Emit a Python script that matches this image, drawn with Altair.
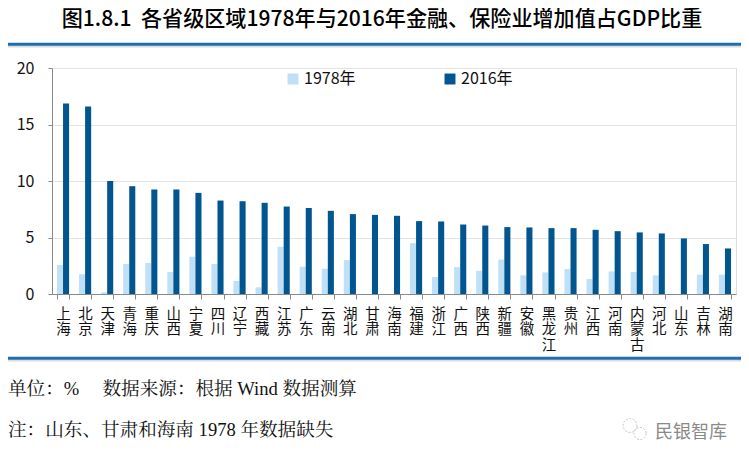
import altair as alt
import pandas as pd

provinces = ["上海","北京","天津","青海","重庆","山西","宁夏","四川","辽宁","西藏","江苏","广东","云南","湖北","甘肃",
             "海南","福建","浙江","广西","陕西","新疆","安徽","黑龙江","贵州","江西","河南","内蒙古","河北","山东","吉林","湖南"]
v2016 = [16.85,16.6,10.0,9.54,9.25,9.25,8.95,8.27,8.21,8.07,7.74,7.6,7.36,7.07,7.0,
         6.92,6.45,6.42,6.15,6.06,5.92,5.89,5.83,5.83,5.68,5.56,5.45,5.36,4.92,4.42,4.03]
v1978 = [2.56,1.74,0.15,2.65,2.74,1.94,3.3,2.65,1.15,0.59,4.18,2.41,2.24,3.0,None,
         None,4.5,1.5,2.38,2.06,3.06,1.65,1.91,2.2,1.32,2.0,1.94,1.65,None,1.71,1.71]
years = ["1978年", "2016年"]
colors = ["#bfe0f6", "#02568f"]

title_text = "图1.8.1\u00a0\u00a0各省级区域1978年与2016年金融、保险业增加值占GDP比重"
note1 = "单位：%\u3000\u00a0数据来源：根据 Wind 数据测算"
note2 = "注：山东、甘肃和海南 1978 年数据缺失"
mark_text = "民银智库"

rows = []
for p, a, b in zip(provinces, v1978, v2016):
    if a is not None:
        rows.append({"prov": p, "year": years[0], "val": a})
    rows.append({"prov": p, "year": years[1], "val": b})
df = pd.DataFrame(rows)
one = pd.DataFrame({"k": [0]})

W, H = 684, 226
CJK = "Noto Sans CJK SC"
SERIF = "Liberation Serif, Noto Serif CJK SC, Noto Sans CJK SC"

bars = alt.Chart(df).mark_bar().encode(
    x=alt.X("prov:N", sort=provinces, title=None,
            scale=alt.Scale(paddingInner=0.45, paddingOuter=0.225),
            axis=alt.Axis(labelAngle=0, labelExpr="split(datum.label, '')",
                          labelFontSize=14.5, labelLineHeight=15.5, labelPadding=8,
                          tickBand="extent", tickSize=5, grid=False,
                          domainColor="#8a8a8a", tickColor="#8a8a8a",
                          labelColor="#111", labelFont=CJK)),
    xOffset=alt.XOffset("year:N", sort=years, scale=alt.Scale(paddingInner=0, paddingOuter=0)),
    y=alt.Y("val:Q", title=None, scale=alt.Scale(domain=[0, 20]),
            axis=alt.Axis(values=[0, 5, 10, 15, 20], tickSize=4, labelPadding=14,
                          labelFontSize=16, labelColor="#111", labelFont=CJK,
                          domainColor="#8a8a8a", tickColor="#8a8a8a",
                          gridColor="#e3e3e3", grid=True)),
    color=alt.Color("year:N", sort=years, scale=alt.Scale(domain=years, range=colors),
                    legend=alt.Legend(title=None, orient="none", legendX=233, legendY=3,
                                      direction="horizontal", symbolType="square",
                                      symbolSize=120, symbolStrokeWidth=0,
                                      labelFontSize=16, labelFont=CJK, labelColor="#111",
                                      columnPadding=86, labelOffset=3)),
)

def txt(x, y, s, size, font, color="#111", align="left", weight="normal"):
    return alt.Chart(one).mark_text(align=align, baseline="middle", fontSize=size, font=font,
                                    color=color, fontWeight=weight).encode(
        x=alt.value(x), y=alt.value(y), text=alt.value(s))

def rule(x1, x2, y, color, w):
    return alt.Chart(one).mark_rule(color=color, strokeWidth=w).encode(
        x=alt.value(x1), x2=alt.value(x2), y=alt.value(y))

title = txt(330, -48, title_text, 21.1, CJK, "#000", "center", 500)
line_top_shadow = rule(-44, 689, -21.5, "#dcdcdc", 2)
line_top = rule(-44, 689, -23.7, "#1f6db0", 3)
line_bot_shadow = rule(-44, 689, 292.5, "#dcdcdc", 2)
line_bot = rule(-44, 689, 290.3, "#1f6db0", 3)
n1 = txt(-44, 320.5, note1, 18.6, SERIF)
n2 = txt(-44, 361.5, note2, 18.6, SERIF)
wm = txt(639, 364.5, mark_text, 18, CJK, "#8a8a8a", "center")
icon = alt.Chart(pd.DataFrame({"px": [578, 588], "py": [357.5, 365.5], "s": [190, 150]})).mark_point(
    shape="circle", filled=False, color="#aaaaaa", strokeWidth=1, strokeDash=[2, 1.5]).encode(
    x=alt.X("px:Q", scale=None), y=alt.Y("py:Q", scale=None), size=alt.Size("s:Q", scale=None))

chart = alt.layer(bars, title, line_top_shadow, line_top, line_bot_shadow, line_bot, n1, n2, wm, icon).properties(
    width=W, height=H,
    autosize=alt.AutoSizeParams(type="none"),
    padding={"left": 44, "top": 60, "right": 5, "bottom": 161},
).configure_view(stroke=None).configure(background="white")

chart.save("out.html", embed_options={"renderer": "svg", "actions": False})
